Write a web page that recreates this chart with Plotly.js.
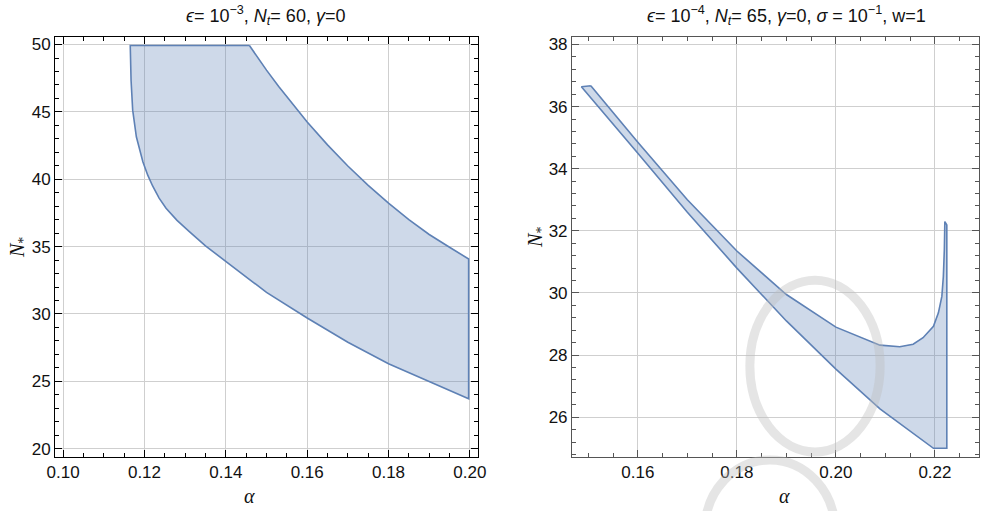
<!DOCTYPE html>
<html>
<head>
<meta charset="utf-8">
<script src="https://cdn.plot.ly/plotly-3.0.1.min.js"></script>
<style>html,body{margin:0;padding:0;background:#fff;}#chart{width:989px;height:511px;}</style>
</head>
<body>
<div id="chart"></div>
<script>
// ---- Left panel data (ε=1e-3, Nt=60, γ=0) ----
const leftLowerAlpha = [0.1165, 0.1167, 0.1171, 0.1180, 0.1188, 0.1196, 0.1208, 0.1220, 0.1236, 0.1253, 0.1280, 0.1311, 0.1350, 0.1400, 0.1500, 0.1600, 0.1700, 0.1800, 0.1900, 0.1997];
const leftLowerN     = [49.93, 47.35, 45.13, 43.15, 42.20, 41.30, 40.30, 39.50, 38.60, 37.85, 36.95, 36.10, 35.05, 33.86, 31.60, 29.70, 27.90, 26.30, 24.95, 23.70];
const leftUpperAlpha = [0.1458, 0.1480, 0.1500, 0.1530, 0.1560, 0.1600, 0.1650, 0.1700, 0.1750, 0.1800, 0.1850, 0.1900, 0.1950, 0.1997];
const leftUpperN     = [49.93, 48.95, 48.10, 46.88, 45.72, 44.25, 42.55, 40.98, 39.55, 38.22, 37.00, 35.90, 34.95, 34.08];

// ---- Right panel data (ε=1e-4, Nt=65, γ=0, σ=1e-1, w=1) ----
const rightLowerAlpha = [0.1486, 0.1600, 0.1700, 0.1800, 0.1900, 0.2000, 0.2089, 0.2197, 0.2224];
const rightLowerN     = [36.64, 34.50, 32.60, 30.80, 29.10, 27.55, 26.27, 25.00, 25.00];
const rightUpperAlpha = [0.1505, 0.1600, 0.1700, 0.1800, 0.1900, 0.2000, 0.2089, 0.2129, 0.2156, 0.2176, 0.2197, 0.2207, 0.2214, 0.2217, 0.2219, 0.2220, 0.2224];
const rightUpperN     = [36.67, 34.85, 33.00, 31.35, 29.95, 28.90, 28.32, 28.27, 28.35, 28.56, 28.93, 29.36, 29.89, 30.53, 31.39, 32.30, 32.19];

const leftXTicks = [0.10, 0.12, 0.14, 0.16, 0.18, 0.20];
const leftYTicks = [20, 25, 30, 35, 40, 45, 50];
const rightXTicks = [0.16, 0.18, 0.20, 0.22];
const rightYTicks = [26, 28, 30, 32, 34, 36, 38];

function polygon(upA, upN, loA, loN) {
  const xs = upA.concat(loA.slice().reverse());
  const ys = upN.concat(loN.slice().reverse());
  xs.push(xs[0]); ys.push(ys[0]);
  return {x: xs, y: ys};
}

const lp = polygon(leftUpperAlpha, leftUpperN, leftLowerAlpha, leftLowerN);
const rp = polygon(rightUpperAlpha, rightUpperN, rightLowerAlpha, rightLowerN);

const lineCol = '#5e81b5';
const fillCol = 'rgba(94,129,181,0.30)';

const traces = [
  {x: lp.x, y: lp.y, type: 'scatter', mode: 'lines', fill: 'toself', fillcolor: fillCol,
   line: {color: lineCol, width: 1.6}, xaxis: 'x', yaxis: 'y', hoverinfo: 'skip'},
  {x: rp.x, y: rp.y, type: 'scatter', mode: 'lines', fill: 'toself', fillcolor: fillCol,
   line: {color: lineCol, width: 1.6}, xaxis: 'x2', yaxis: 'y2', hoverinfo: 'skip'}
];

const tickFont = {family: 'Liberation Sans, Arial, sans-serif', size: 17, color: '#111'};
function axis(range, tickvals, fmt, minorDt, col, domain, anchor) {
  return {
    range: range, domain: domain, anchor: anchor,
    tickmode: 'array', tickvals: tickvals, tickformat: fmt,
    ticks: 'inside', ticklen: 7, tickwidth: 1, tickcolor: col,
    showline: true, linecolor: col, linewidth: 1, mirror: 'allticks',
    showgrid: true, gridcolor: '#cfcfcf', gridwidth: 1, zeroline: false,
    tickfont: tickFont,
    minor: {dtick: minorDt, ticks: 'inside', ticklen: 4, tickcolor: col, showgrid: false}
  };
}

const titleFont = {family: 'Liberation Sans, Arial, sans-serif', size: 18, color: '#111'};
const labFont = {family: 'Liberation Serif, DejaVu Serif, serif', size: 20, color: '#111'};

const layout = {
  width: 989, height: 511,
  margin: {l: 55, r: 10, t: 37, b: 54},
  paper_bgcolor: '#fff', plot_bgcolor: '#fff',
  showlegend: false,
  xaxis: axis([0.098, 0.202], leftXTicks, '.2f', 0.005, '#000', [0, 0.4578], 'y'),
  yaxis: axis([19.38, 50.56], leftYTicks, 'd', 1, '#000', [0, 1], 'x'),
  xaxis2: axis([0.1467, 0.2289], rightXTicks, '.2f', 0.005, '#555', [0.5595, 1.0], 'y2'),
  yaxis2: axis([24.72, 38.24], rightYTicks, 'd', 0.4, '#555', [0, 1], 'x2'),
  annotations: [
    {text: '<i>ϵ</i>= 10<sup>−3</sup>, <i>N<sub>t</sub></i>= 60, <i>γ</i>=0', xref: 'paper', yref: 'paper',
     x: 0.228, y: 1.052, xanchor: 'center', yanchor: 'middle', showarrow: false, font: titleFont},
    {text: '<i>ϵ</i>= 10<sup>−4</sup>, <i>N<sub>t</sub></i>= 65, <i>γ</i>=0, <i>σ</i> = 10<sup>−1</sup>, w=1', xref: 'paper', yref: 'paper',
     x: 0.792, y: 1.052, xanchor: 'center', yanchor: 'middle', showarrow: false, font: titleFont},
    {text: '<i>α</i>', xref: 'paper', yref: 'paper', x: 0.211, y: -0.093, xanchor: 'center', yanchor: 'middle', showarrow: false, font: labFont},
    {text: '<i>α</i>', xref: 'paper', yref: 'paper', x: 0.790, y: -0.093, xanchor: 'center', yanchor: 'middle', showarrow: false, font: labFont},
    {text: '<i>N</i><sub>*</sub>', xref: 'paper', yref: 'paper', x: -0.040, y: 0.4976, xanchor: 'center', yanchor: 'middle', textangle: -90, showarrow: false, font: labFont},
    {text: '<i>N</i><sub>*</sub>', xref: 'paper', yref: 'paper', x: 0.5216, y: 0.524, xanchor: 'center', yanchor: 'middle', textangle: -90, showarrow: false, font: labFont}
  ],
  shapes: [
    {type: 'circle', xref: 'paper', yref: 'paper', x0: 0.752, x1: 0.893, y0: 0.012, y1: 0.421,
     line: {color: 'rgba(190,190,190,0.4)', width: 9}, layer: 'above'},
    {type: 'circle', xref: 'paper', yref: 'paper', x0: 0.7035, x1: 0.844, y0: -0.34, y1: -0.007,
     line: {color: 'rgba(190,190,190,0.4)', width: 9}, layer: 'above'}
  ]
};

Plotly.newPlot('chart', traces, layout, {staticPlot: true, displayModeBar: false});
</script>
</body>
</html>
